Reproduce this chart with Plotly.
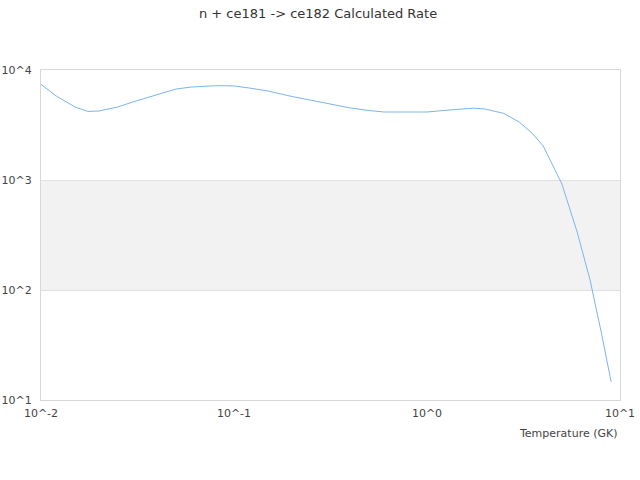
import plotly.graph_objects as go

# Temperatur (GK) og beregnet rate, lest av referansen
temperature = [0.01, 0.012, 0.015, 0.0175, 0.02, 0.025, 0.03, 0.04, 0.05, 0.06,
               0.07, 0.08, 0.09, 0.1, 0.12, 0.15, 0.2, 0.3, 0.4, 0.5,
               0.6, 0.7, 0.8, 0.9, 1.0, 1.25, 1.5, 1.75, 2.0, 2.5,
               3.0, 3.5, 4.0, 5.0, 6.0, 7.0, 8.0, 9.0]
rate = [7400, 5800, 4610, 4200, 4240, 4610, 5130, 5930, 6710, 7000,
        7160, 7200, 7200, 7160, 6860, 6440, 5740, 5010, 4520, 4280,
        4150, 4150, 4150, 4150, 4150, 4300, 4420, 4500, 4420, 4030,
        3370, 2670, 2040, 920, 336, 123, 41, 14.6]

x_tickvals = [0.01, 0.1, 1, 10]
x_ticktext = ["10^-2", "10^-1", "10^0", "10^1"]
y_tickvals = [10, 100, 1000, 10000]
y_ticktext = ["10^1", "10^2", "10^3", "10^4"]

fig = go.Figure()
fig.add_trace(go.Scatter(x=temperature, y=rate, mode="lines",
                         line=dict(color="#7cb5ec", width=1),
                         name="Rate", showlegend=False))

# alternerende bånd mellom 10^2 og 10^3
fig.add_hrect(y0=100, y1=1000, fillcolor="#f2f2f2", opacity=1,
              line_width=0, layer="below")

fig.update_layout(
    width=640, height=480,
    font=dict(family="DejaVu Sans", size=11, color="#444"),
    title=dict(text="n + ce181 -> ce182 Calculated Rate", x=0.497, xanchor="center",
               xref="container", y=0.973, yanchor="middle",
               font=dict(size=13, color="#333")),
    margin=dict(l=41, r=20, t=70, b=80),
    plot_bgcolor="white", paper_bgcolor="white",
    xaxis=dict(type="log", range=[-2, 1], tickvals=x_tickvals, ticktext=x_ticktext,
               showgrid=False, showline=True, linecolor="#d8d8d8", mirror=True,
               ticks="", zeroline=False, automargin=False, ticklabelstandoff=3,
               tickfont=dict(color="#444")),
    yaxis=dict(type="log", range=[1, 4], tickvals=y_tickvals, ticktext=y_ticktext,
               showgrid=True, gridcolor="#e0e0e0", showline=True, linecolor="#d8d8d8",
               mirror=True, ticks="", zeroline=False, automargin=False,
               ticklabelstandoff=6, tickfont=dict(color="#444")),
    annotations=[dict(text="Temperature (GK)", xref="paper", yref="paper",
                      x=1, y=0, xanchor="right", yanchor="top", yshift=-25,
                      showarrow=False, font=dict(size=11, color="#444"))],
)

# fjern standardmargen rundt body så figuren står helt i hjørnet
fig.write_html("out.html", config={"displayModeBar": False},
               post_script="document.body.style.margin='0';")
